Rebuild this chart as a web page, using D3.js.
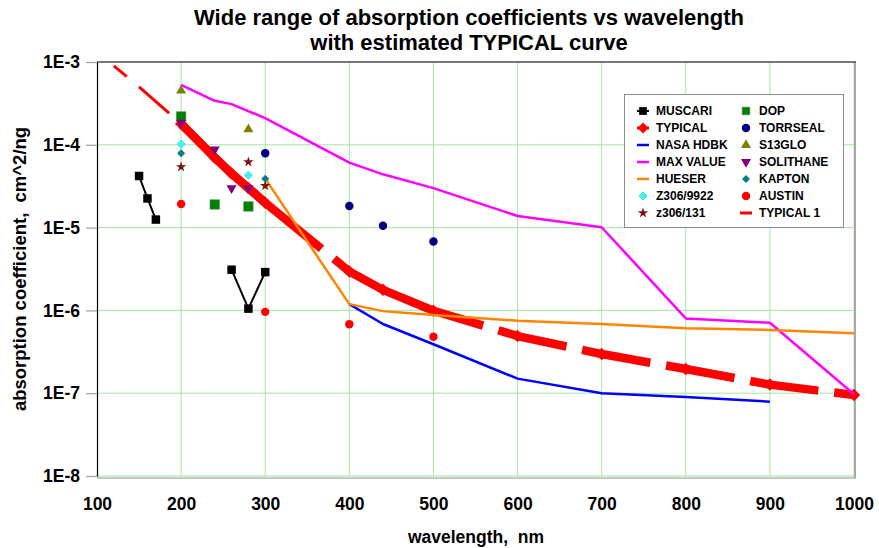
<!DOCTYPE html>
<html>
<head>
<meta charset="utf-8">
<script src="https://cdn.jsdelivr.net/npm/d3@7"></script>
<style>
  html, body { margin: 0; padding: 0; background: #fff; }
  svg { display: block; font-family: "Liberation Sans", Arial, sans-serif; }
</style>
</head>
<body>
<svg id="chart" width="879" height="548"></svg>
<script>
// ---------------- DATA ----------------
const xTicks = [100, 200, 300, 400, 500, 600, 700, 800, 900, 1000];
const yTicks = [1e-8, 1e-7, 1e-6, 1e-5, 1e-4, 1e-3];

const muscariWl   = [150, 160, 170, 220, 260, 280, 300];
const muscari     = [4.2e-5, 2.25e-5, 1.25e-5, null, 3.1e-6, 1.05e-6, 2.9e-6];

const typicalWl   = [200, 240, 260, 280, 300, 400, 440, 500, 600, 700, 800, 900, 1000];
const typical     = [1.8e-4, 7e-5, 4.5e-5, 3e-5, 2e-5, 2.95e-6, 1.77e-6, 9.9e-7, 4.9e-7, 2.97e-7, 1.96e-7, 1.27e-7, 9.5e-8];

const nasaWl      = [400, 440, 500, 600, 700, 800, 900];
const nasa        = [1.19e-6, 6.85e-7, 3.9e-7, 1.5e-7, 1e-7, 9e-8, 7.9e-8];

const maxWl       = [200, 240, 260, 300, 400, 440, 500, 600, 700, 800, 900, 1000];
const maxValue    = [5.3e-4, 3.4e-4, 3.1e-4, 2.1e-4, 6.1e-5, 4.4e-5, 3e-5, 1.38e-5, 1.01e-5, 8e-7, 7.1e-7, 9.7e-8];

const hueserWl    = [300, 400, 440, 500, 600, 700, 800, 900, 1000];
const hueser      = [3.9e-5, 1.19e-6, 9.8e-7, 8.8e-7, 7.5e-7, 6.85e-7, 6.1e-7, 5.8e-7, 5.3e-7];

const z9922Wl     = [200, 280];
const z9922       = [1.02e-4, 4.3e-5];

const z131Wl      = [200, 280, 300];
const z131        = [5.4e-5, 6.2e-5, 3.2e-5];

const dopWl       = [200, 240, 280];
const dop         = [2.2e-4, 1.9e-5, 1.8e-5];

const torrsealWl  = [300, 400, 440, 500];
const torrseal    = [7.9e-5, 1.82e-5, 1.05e-5, 6.8e-6];

const s13gloWl    = [200, 280];
const s13glo      = [4.5e-4, 1.54e-4];

const solithaneWl = [200, 240, 260, 280];
const solithane   = [1.85e-4, 8.8e-5, 3e-5, 3e-5];

const kaptonWl    = [200, 300];
const kapton      = [7.9e-5, 3.9e-5];

const austinWl    = [200, 300, 400, 500];
const austin      = [1.93e-5, 9.6e-7, 6.8e-7, 4.8e-7];

const typical1Wl  = [120, 150, 200];
const typical1    = [9e-4, 5e-4, 1.8e-4];

// ---------------- SERIES CONFIG (styles) ----------------
const series = [
  { name: "MUSCARI",   wl: muscariWl,   v: muscari,   color: "#000000", line: 2,   marker: "square",  msize: 72 },
  { name: "TYPICAL",   wl: typicalWl,   v: typical,   color: "#ff0000", line: 8.5, marker: "diamond", msize: 78, dashFrom: 300 },
  { name: "NASA HDBK", wl: nasaWl,      v: nasa,      color: "#0000ff", line: 2.5 },
  { name: "MAX VALUE", wl: maxWl,       v: maxValue,  color: "#ff00ff", line: 2.5 },
  { name: "HUESER",    wl: hueserWl,    v: hueser,    color: "#ff8400", line: 2.5 },
  { name: "Z306/9922", wl: z9922Wl,     v: z9922,     color: "#33ffff", marker: "diamond", msize: 32, stroke: "#2bb5b5" },
  { name: "z306/131",  wl: z131Wl,      v: z131,      color: "#7a1414", marker: "star",    msize: 34 },
  { name: "DOP",       wl: dopWl,       v: dop,       color: "#008000", marker: "square",  msize: 92, stroke: "#6d8f6d" },
  { name: "TORRSEAL",  wl: torrsealWl,  v: torrseal,  color: "#000080", marker: "circle",  msize: 56 },
  { name: "S13GLO",    wl: s13gloWl,    v: s13glo,    color: "#808000", marker: "triangle", msize: 44 },
  { name: "SOLITHANE", wl: solithaneWl, v: solithane, color: "#800080", marker: "down",    msize: 44 },
  { name: "KAPTON",    wl: kaptonWl,    v: kapton,    color: "#008080", marker: "diamond", msize: 32 },
  { name: "AUSTIN",    wl: austinWl,    v: austin,    color: "#ff0000", marker: "circle",  msize: 56 },
  { name: "TYPICAL 1", wl: typical1Wl,  v: typical1,  color: "#ff0000", line: 3, segDash: true }
];

// ---------------- LAYOUT ----------------
const svg = d3.select("#chart");
const plot = { left: 97, right: 854, top: 62, bottom: 476 };

const x = d3.scaleLinear().domain([100, 1000]).range([plot.left, plot.right]);
const y = d3.scaleLog().domain([1e-8, 1e-3]).range([plot.bottom, plot.top]);

// grid
const grid = svg.append("g");
grid.selectAll("line.v").data(xTicks.slice(1)).join("line")
  .attr("x1", d => x(d)).attr("x2", d => x(d))
  .attr("y1", plot.top).attr("y2", plot.bottom)
  .attr("stroke", "#a3e8a3").attr("stroke-width", 1);
grid.selectAll("line.h").data(yTicks).join("line")
  .attr("x1", plot.left).attr("x2", plot.right)
  .attr("y1", d => y(d)).attr("y2", d => y(d))
  .attr("stroke", "#a3e8a3").attr("stroke-width", 1);

// plot border / shadow
svg.append("line").attr("x1", plot.left).attr("x2", plot.right + 2)
  .attr("y1", plot.bottom + 2).attr("y2", plot.bottom + 2)
  .attr("stroke", "#c8c8c8").attr("stroke-width", 2);
svg.append("line").attr("x1", plot.right + 1).attr("x2", plot.right + 1)
  .attr("y1", plot.top).attr("y2", plot.bottom + 2)
  .attr("stroke", "#a8a8a8").attr("stroke-width", 2);
svg.append("line").attr("x1", plot.left).attr("x2", plot.right + 2)
  .attr("y1", plot.top).attr("y2", plot.top)
  .attr("stroke", "#505050").attr("stroke-width", 1.5);

// axes
const xAxis = d3.axisBottom(x).tickValues(xTicks).tickSize(0).tickPadding(22).tickFormat(d3.format("d"));
const gx = svg.append("g").attr("transform", `translate(0,${plot.bottom})`).call(xAxis);
gx.select(".domain").remove();
gx.selectAll("text").attr("font-size", 17.5).attr("font-weight", "bold").attr("fill", "#000")
  .attr("font-family", "Liberation Sans, Arial, sans-serif");

const yAxis = d3.axisLeft(y).tickValues(yTicks).tickSizeInner(11).tickSizeOuter(0).tickPadding(6)
  .tickFormat(d => "1E" + Math.round(Math.log10(d)));
const gy = svg.append("g").attr("transform", `translate(${plot.left},0)`).call(yAxis);
gy.select(".domain").attr("stroke", "#000").attr("stroke-width", 1.2);
gy.selectAll(".tick line").attr("stroke", "#a0a0a0").attr("stroke-width", 1.2);
gy.selectAll("text").attr("font-size", 17.5).attr("font-weight", "bold").attr("fill", "#000")
  .attr("font-family", "Liberation Sans, Arial, sans-serif");

// ---------------- MARKS ----------------
function symbolFor(m, size) {
  if (m === "square")   return { path: d3.symbol(d3.symbolSquare, size)(), rot: 0 };
  if (m === "diamond")  return { path: d3.symbol(d3.symbolSquare, size)(), rot: 45 };
  if (m === "circle")   return { path: d3.symbol(d3.symbolCircle, size)(), rot: 0 };
  if (m === "triangle") return { path: d3.symbol(d3.symbolTriangle, size)(), rot: 0 };
  if (m === "down")     return { path: d3.symbol(d3.symbolTriangle, size)(), rot: 180 };
  if (m === "star")     return { path: d3.symbol(d3.symbolStar, size)(), rot: 0 };
  return null;
}

const marks = svg.append("g");
series.forEach(s => {
  const pts = s.wl.map((w, i) => ({ w, v: s.v[i] }));
  const g = marks.append("g");
  if (s.line) {
    const valid = pts.filter(p => p.v != null);
    const segs = [];
    for (let i = 0; i < pts.length - 1; i++) {
      if (pts[i].v == null || pts[i + 1].v == null) continue;
      segs.push([pts[i], pts[i + 1]]);
    }
    if (s.dashFrom != null || s.segDash) {
      segs.forEach(([a, b]) => {
        const x0 = x(a.w), y0 = y(a.v), x1 = x(b.w), y1 = y(b.v);
        const L = Math.hypot(x1 - x0, y1 - y0);
        let dash = null;
        if (s.segDash) dash = `${Math.max(L - 16, 4)},16`;
        else if (a.w >= s.dashFrom && L > 60) dash = `${L - 36},16,${L}`;
        g.append("path")
          .attr("d", d3.line()([[x0, y0], [x1, y1]]))
          .attr("fill", "none").attr("stroke", s.color)
          .attr("stroke-width", s.line)
          .attr("stroke-linecap", "butt")
          .attr("stroke-dasharray", dash);
      });
      if (s.dashFrom != null) {
        const solid = valid.filter(p => p.w <= s.dashFrom);
        g.append("path")
          .attr("d", d3.line().x(p => x(p.w)).y(p => y(p.v))(solid))
          .attr("fill", "none").attr("stroke", s.color)
          .attr("stroke-width", s.line).attr("stroke-linejoin", "round");
      }
    } else {
      g.append("path")
        .attr("d", d3.line().defined(p => p.v != null).x(p => x(p.w)).y(p => y(p.v))(pts))
        .attr("fill", "none").attr("stroke", s.color)
        .attr("stroke-width", s.line).attr("stroke-linejoin", "round");
    }
  }
  if (s.marker) {
    const sym = symbolFor(s.marker, s.msize);
    g.selectAll("path.m").data(pts.filter(p => p.v != null)).join("path")
      .attr("class", "m")
      .attr("d", sym.path)
      .attr("transform", p => `translate(${x(p.w)},${y(p.v)}) rotate(${sym.rot})`)
      .attr("fill", s.color)
      .attr("stroke", s.stroke || "none").attr("stroke-width", 0.6);
  }
});

// ---------------- LEGEND ----------------
const legend = { x: 624, y: 94, w: 219, h: 133, rows: 7, colX: [643, 746], textDx: 13, rowY0: 111, rowH: 17 };
const lg = svg.append("g");
lg.append("rect").attr("x", legend.x + 0.5).attr("y", legend.y + 0.5)
  .attr("width", legend.w).attr("height", legend.h)
  .attr("fill", "#fff").attr("stroke", "#8c8c8c").attr("stroke-width", 1);

series.forEach((s, i) => {
  const col = Math.floor(i / legend.rows), row = i % legend.rows;
  const cx = legend.colX[col], cy = legend.rowY0 + row * legend.rowH;
  const it = lg.append("g").attr("transform", `translate(${cx},${cy})`);
  if (s.line) {
    it.append("line").attr("x1", -6).attr("x2", 6).attr("y1", 0).attr("y2", 0)
      .attr("stroke", s.color).attr("stroke-width", Math.min(s.line, 3));
  }
  if (s.marker) {
    const sym = symbolFor(s.marker, Math.min(s.msize, 60));
    it.append("path").attr("d", sym.path).attr("transform", `rotate(${sym.rot})`)
      .attr("fill", s.color).attr("stroke", s.stroke || "none").attr("stroke-width", 0.6);
  }
  it.append("text").attr("x", legend.textDx).attr("y", 0).attr("dy", "0.36em")
    .attr("font-size", 12).attr("font-weight", "bold").attr("fill", "#000")
    .text(s.name);
});

// ---------------- TITLES ----------------
const title = svg.append("text").attr("text-anchor", "middle")
  .attr("font-size", 22).attr("font-weight", "bold").attr("fill", "#000");
title.append("tspan").attr("x", 469).attr("y", 25).text("Wide range of absorption coefficients vs wavelength");
title.append("tspan").attr("x", 469).attr("y", 50).text("with estimated TYPICAL curve");

svg.append("text").attr("x", 476).attr("y", 543).attr("text-anchor", "middle")
  .attr("font-size", 17.5).attr("font-weight", "bold").attr("xml:space", "preserve").text("wavelength,  nm");

svg.append("text").attr("transform", `translate(26,269) rotate(-90)`).attr("text-anchor", "middle")
  .attr("font-size", 18.5).attr("font-weight", "bold").attr("xml:space", "preserve")
  .text("absorption coefficient,  cm^2/ng");
</script>
</body>
</html>
